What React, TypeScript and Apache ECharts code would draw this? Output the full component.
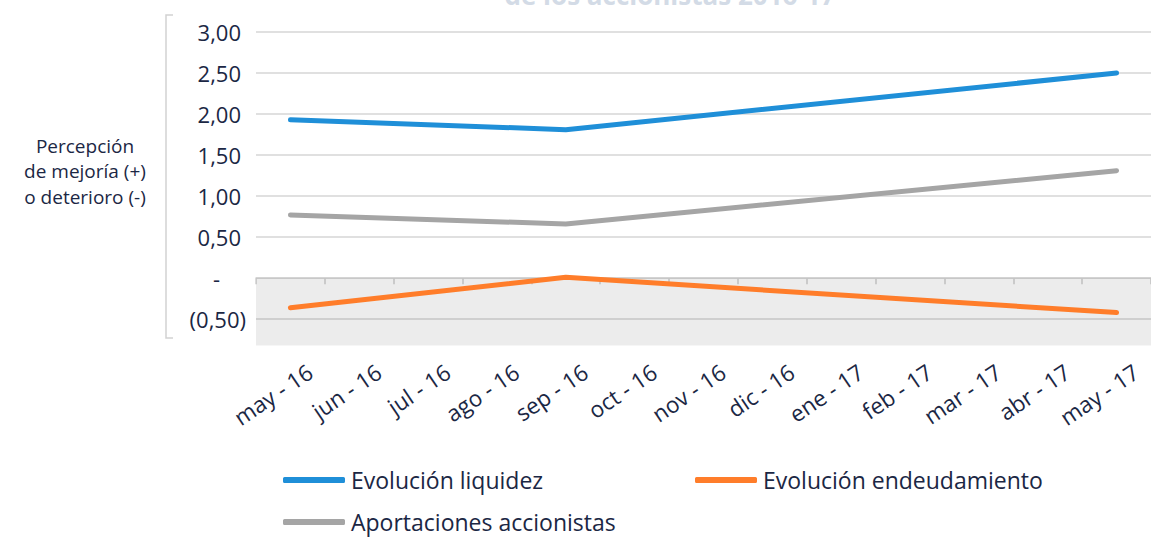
import React, { useEffect, useRef } from "react";
import * as echarts from "echarts";

const categories = [
  "may - 16", "jun - 16", "jul - 16", "ago - 16", "sep - 16", "oct - 16", "nov - 16",
  "dic - 16", "ene - 17", "feb - 17", "mar - 17", "abr - 17", "may - 17",
];
const liquidez = [1.93, null, null, null, 1.81, null, null, null, null, null, null, null, 2.5];
const endeudamiento = [-0.36, null, null, null, 0.01, null, null, null, null, null, null, null, -0.42];
const aportaciones = [0.77, null, null, null, 0.66, null, null, null, null, null, null, null, 1.31];
const yTicks = [-0.5, 0, 0.5, 1, 1.5, 2, 2.5, 3];
const negBand = [0, -0.82];

const NAVY = "#1b2744";
const FONT = "'Open Sans', Roboto, sans-serif";

function fmt(v: number): string {
  if (Math.abs(v) < 1e-9) return "{z|-}";
  const s = Math.abs(v).toFixed(2).replace(".", ",");
  return v < 0 ? "{n|(" + s + ")}" : "{p|" + s + "}";
}

export default function App() {
  const ref = useRef<HTMLDivElement>(null);
  useEffect(() => {
    document.body.style.margin = "0";
    const chart = echarts.init(ref.current!, undefined, { renderer: "svg" });
    const lineSeries = (name: string, data: (number | null)[], color: string, withBand = false) => ({
      name,
      type: "line",
      data,
      connectNulls: true,
      symbol: "none",
      lineStyle: { width: 5, color, cap: "round", join: "round" },
      itemStyle: { color },
      z: 3,
      ...(withBand
        ? {
            markArea: {
              silent: true,
              itemStyle: { color: "rgba(0,0,0,0.075)" },
              data: [[{ yAxis: negBand[0] }, { yAxis: negBand[1] }]],
            },
          }
        : {}),
    });
    const legendBase = {
      icon: "roundRect",
      itemWidth: 62,
      itemHeight: 6,
      itemGap: 0,
      padding: 0,
      selectedMode: false,
      textStyle: {
        fontSize: 23,
        lineHeight: 24,
        color: NAVY,
        fontFamily: FONT,
        padding: [0, 0, 0, 1],
      },
    };
    const yRich = { fontSize: 22, color: NAVY, fontFamily: FONT };
    chart.setOption({
      animation: false,
      textStyle: { fontFamily: FONT },
      grid: { left: 256, top: 32, width: 895, height: 320, containLabel: false },
      xAxis: {
        type: "category",
        data: categories,
        boundaryGap: true,
        axisLine: { lineStyle: { color: "#cfcfcf", width: 1.5 } },
        axisTick: { show: true, length: 6, lineStyle: { color: "#cfcfcf", width: 1.5 } },
        axisLabel: {
          rotate: 34,
          interval: 0,
          margin: 17,
          fontSize: 22.5,
          color: NAVY,
          fontFamily: FONT,
          verticalAlign: "top",
          padding: [0, -16, 0, 0],
        },
      },
      yAxis: {
        type: "value",
        min: -0.9,
        max: 3,
        axisLine: { show: false },
        axisTick: { show: false, customValues: yTicks },
        splitLine: { show: true, lineStyle: { color: "#d6d6d6", width: 1.5 } },
        axisLabel: {
          customValues: yTicks,
          margin: 10,
          formatter: (v: number) => fmt(v),
          rich: {
            p: { ...yRich, padding: [0, 5, 0, 0] },
            n: { ...yRich },
            z: { ...yRich, padding: [0, 26, 0, 0] },
          },
        },
      },
      legend: [
        { ...legendBase, data: ["Evolución liquidez"], left: 283, top: 468 },
        { ...legendBase, data: ["Evolución endeudamiento"], left: 695, top: 468 },
        { ...legendBase, data: ["Aportaciones accionistas"], left: 283, top: 510 },
      ],
      graphic: [
        {
          type: "text",
          x: 670,
          y: 8,
          style: {
            text: "de los accionistas 2016-17",
            fontSize: 26,
            fontWeight: "bold",
            fill: "#d3dbe6",
            fontFamily: FONT,
            align: "center",
            verticalAlign: "bottom",
          },
        },
        {
          type: "text",
          x: 85,
          y: 171,
          style: {
            text: "Percepción\nde mejoría (+)\no deterioro (-)",
            fontSize: 19,
            lineHeight: 25.5,
            fill: NAVY,
            fontFamily: FONT,
            align: "center",
            verticalAlign: "middle",
          },
        },
        {
          type: "polyline",
          shape: { points: [[173, 15], [166, 15], [166, 338], [173, 338]] },
          style: { stroke: "#d2d2d2", lineWidth: 1.5, fill: "none" },
        },
      ],
      series: [
        lineSeries("Evolución liquidez", liquidez, "#1f8fd8", true),
        lineSeries("Evolución endeudamiento", endeudamiento, "#ff7d2a"),
        lineSeries("Aportaciones accionistas", aportaciones, "#a5a5a5"),
      ],
    });
    return () => chart.dispose();
  }, []);
  return <div ref={ref} style={{ width: 1151, height: 540 }} />;
}
